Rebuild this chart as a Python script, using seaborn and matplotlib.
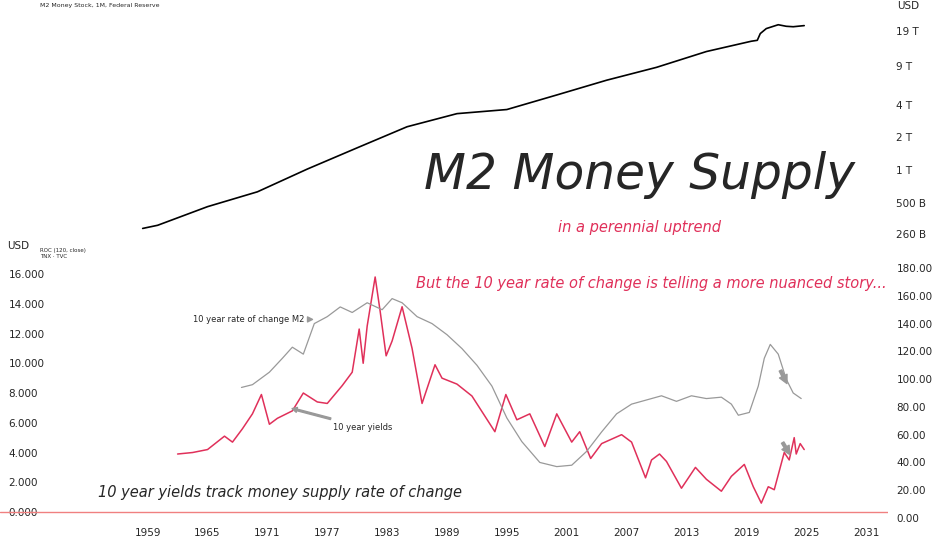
import numpy as np
import pandas as pd
import matplotlib
matplotlib.use("Agg")
import matplotlib.pyplot as plt
import seaborn as sns

sns.set_style("white")
plt.rcParams['font.family'] = ['DejaVu Sans']

# M2 money stock (trillions USD)
m2_year = [1958.5, 1960, 1965, 1970, 1975, 1980, 1985, 1990, 1995, 2000, 2005, 2010,
           2015, 2019.5, 2020.1, 2020.4, 2021, 2022.2, 2023.0, 2023.7, 2024.8]
m2_tn = [0.29, 0.31, 0.46, 0.63, 1.02, 1.6, 2.5, 3.3, 3.6, 4.9, 6.7, 8.8,
         12.3, 15.3, 15.6, 18.0, 20.0, 21.7, 21.0, 20.8, 21.3]

# 10 year treasury yield (%)
tnx_year = [1962, 1963.5, 1965, 1966.7, 1967.5, 1968.5, 1969.5, 1970.4, 1971.2, 1972, 1973.5, 1974.6,
            1976, 1977, 1978.5, 1979.5, 1980.2, 1980.6, 1981.0, 1981.8, 1982.3, 1982.9, 1983.5, 1984.5,
            1985.5, 1986.5, 1987.8, 1988.5, 1990, 1991.5, 1993.8, 1994.9, 1996, 1997.3, 1998.8, 2000,
            2001.5, 2002.3, 2003.4, 2004.5, 2006.5, 2007.5, 2008.9, 2009.5, 2010.3, 2011, 2012.5, 2013.9,
            2015, 2016.5, 2017.5, 2018.8, 2019.7, 2020.5, 2021.2, 2021.8, 2022.8, 2023.3, 2023.8, 2024.0,
            2024.4, 2024.8]
tnx = [3.9, 4.0, 4.2, 5.1, 4.7, 5.6, 6.6, 7.9, 5.9, 6.3, 6.8, 8.0,
       7.4, 7.3, 8.5, 9.4, 12.3, 10.0, 12.5, 15.8, 13.5, 10.5, 11.5, 13.8,
       11.0, 7.3, 9.9, 9.0, 8.6, 7.8, 5.4, 7.9, 6.2, 6.6, 4.4, 6.6,
       4.7, 5.4, 3.6, 4.6, 5.2, 4.7, 2.3, 3.5, 3.9, 3.4, 1.6, 3.0,
       2.2, 1.4, 2.4, 3.2, 1.7, 0.6, 1.7, 1.5, 4.0, 3.5, 5.0, 3.9,
       4.6, 4.2]

# 10 year rate of change of M2 (%)
roc_year = [1968.4, 1969.5, 1971.2, 1972.5, 1973.5, 1974.6, 1975.7, 1977, 1978.3, 1979.5, 1981, 1982.5,
            1983.5, 1984.5, 1986, 1987.5, 1989, 1990.5, 1992, 1993.5, 1995, 1996.5, 1998.3, 2000,
            2001.5, 2003, 2004.5, 2006, 2007.5, 2009, 2010.5, 2012, 2013.5, 2015, 2016.5, 2017.5,
            2018.2, 2019.3, 2020.2, 2020.8, 2021.4, 2022.2, 2023, 2023.7, 2024.5]
roc = [94, 96, 105, 115, 123, 118, 140, 145, 152, 148, 155, 150,
       158, 155, 145, 140, 132, 122, 110, 95, 72, 55, 40, 37,
       38, 48, 62, 75, 82, 85, 88, 84, 88, 86, 87, 82,
       74, 76, 95, 115, 125, 118, 100, 90, 86]

red = "#e0305a"
fig = plt.figure(figsize=(9.32, 5.5), dpi=100)

# top panel
ax1 = fig.add_axes([0, 1 - 240 / 550, 888 / 932, 240 / 550])
sns.lineplot(x=m2_year, y=np.array(m2_tn) * 1e12, ax=ax1, color="black", lw=1.2)
ax1.set_yscale("log")
ax1.set_ylim(10 ** 11.356, 10 ** 13.564)
ax1.set_xlim(1944.2, 2033.2)
ax1.yaxis.tick_right()
yt = [2.6e11, 5e11, 1e12, 2e12, 4e12, 9e12, 19e12]
ax1.set_yticks(yt)
ax1.set_yticklabels(["260 B", "500 B", "1 T", "2 T", "4 T", "9 T", "19 T"])
ax1.minorticks_off()
ax1.tick_params(axis="y", length=0, labelsize=7.5, pad=6)
ax1.set_xticks([])
for s in ax1.spines.values():
    s.set_visible(False)
ax1.text(1.01, 0.975, "USD", transform=ax1.transAxes, fontsize=7.5, ha="left", va="center")
ax1.text(0.045, 0.97, "M2 Money Stock, 1M, Federal Reserve", transform=ax1.transAxes, fontsize=4.5)
ax1.text(0.72, 0.27, "M2 Money Supply", transform=ax1.transAxes, fontsize=35,
         style="italic", ha="center", va="center")
ax1.text(0.72, 0.05, "in a perennial uptrend", transform=ax1.transAxes, fontsize=10.5,
         style="italic", color=red, ha="center", va="center")

# bottom panel
ax2 = fig.add_axes([0, 28 / 550, 888 / 932, 277 / 550])
sns.lineplot(x=tnx_year, y=tnx, ax=ax2, color=red, lw=1.1)
ax2.set_ylim(-0.67, 17.95)
ax2.set_xlim(1944.2, 2033.2)
ax2.set_yticks([0, 2, 4, 6, 8, 10, 12, 14, 16])
ax2.set_yticklabels([f"{v:.3f}" for v in range(0, 17, 2)])
ax2.tick_params(axis="y", direction="in", pad=-6, length=0, labelsize=7.5)
for lab in ax2.get_yticklabels():
    lab.set_ha("left")
ax2.set_xticks(list(range(1959, 2032, 6)))
ax2.tick_params(axis="x", length=0, labelsize=7.5, pad=4)
ax2.axhline(0, color="#f08080", lw=1)
ax3 = ax2.twinx()
sns.lineplot(x=roc_year, y=roc, ax=ax3, color="#999999", lw=0.9)
ax3.set_ylim(-2.9, 196.6)
ax3.set_yticks(list(range(0, 181, 20)))
ax3.set_yticklabels([f"{v:.2f}" for v in range(0, 181, 20)])
ax3.tick_params(axis="y", length=0, labelsize=7.5, pad=6)
for a in (ax2, ax3):
    for s in a.spines.values():
        s.set_visible(False)
ax2.text(0.008, 0.995, "USD", transform=ax2.transAxes, fontsize=7.5, va="center")
ax2.text(0.045, 0.99, "ROC (120, close)\nTNX · TVC", transform=ax2.transAxes, fontsize=4, va="top")
ax2.text(0.468, 0.86, "But the 10 year rate of change is telling a more nuanced story...",
         transform=ax2.transAxes, fontsize=10.5, style="italic", color=red, va="center")
ax2.text(0.11, 0.108, "10 year yields track money supply rate of change",
         transform=ax2.transAxes, fontsize=10.5, style="italic", va="center")
arrow = dict(arrowstyle="simple,head_width=0.6,head_length=0.6", color="#999999")
ax3.annotate("10 year rate of change M2", xy=(1975.8, 143), xytext=(1963.5, 143),
             fontsize=6, va="center", arrowprops=arrow)
ax2.annotate("10 year yields", xy=(1973.2, 7.0), xytext=(1977.6, 5.7),
             fontsize=6, va="center", arrowprops=arrow)
ax3.annotate("", xy=(2023.2, 95), xytext=(2022.3, 108), arrowprops=arrow)
ax3.annotate("", xy=(2023.5, 44), xytext=(2022.5, 56), arrowprops=arrow)

fig.savefig("out.png", dpi=100)
